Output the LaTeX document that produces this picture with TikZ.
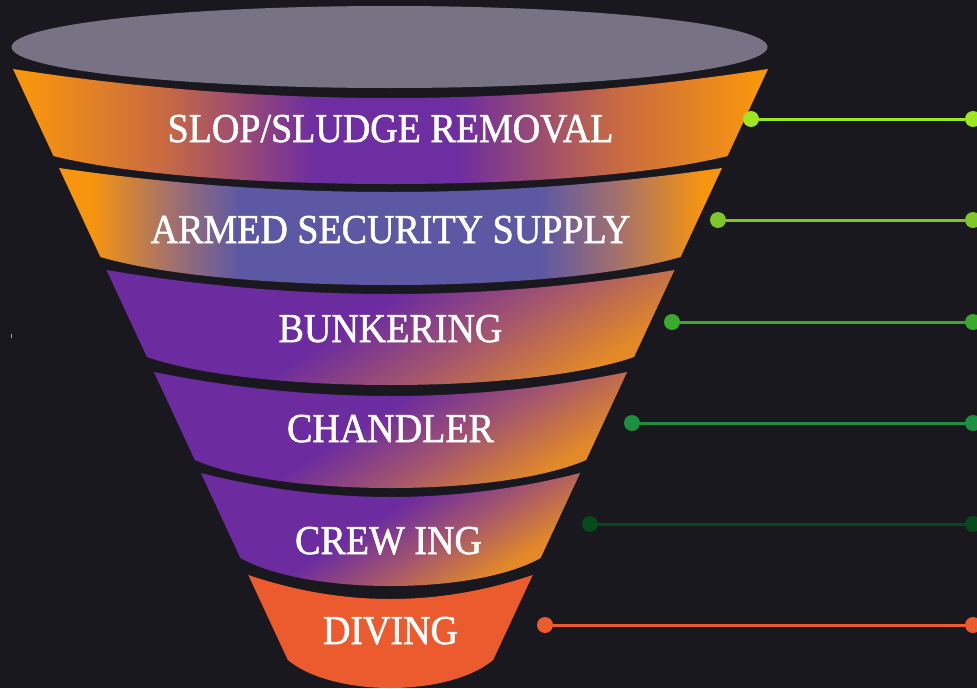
\documentclass[tikz,border=0pt]{standalone}
\usepackage{fontspec}
\usepackage{graphicx}
\newfontfamily\lblfam[FakeBold=1.4]{Liberation Serif}
\definecolor{bgc}{HTML}{19181E}
\definecolor{topc}{HTML}{777385}
\definecolor{cor}{HTML}{F7950F}
\definecolor{cmidone}{HTML}{C86A42}
\definecolor{cpu}{HTML}{6E2DA0}
\definecolor{cblue}{HTML}{5D58A4}
\definecolor{cmidtwo}{HTML}{A2706E}
\definecolor{dpu}{HTML}{6C2C9F}
\definecolor{dmid}{HTML}{A5566C}
\definecolor{dor}{HTML}{E38A27}
\definecolor{cdive}{HTML}{EC5B2D}
\definecolor{gone}{HTML}{A0E620}
\definecolor{gtwo}{HTML}{80C52A}
\definecolor{gthree}{HTML}{3BA82E}
\definecolor{gfour}{HTML}{1C9040}
\definecolor{gfive}{HTML}{064A1C}
\pgfdeclarehorizontalshading{bandone}{100bp}{color(0bp)=(cor); color(26bp)=(cor); color(35bp)=(cmidone); color(45bp)=(cpu); color(54.5bp)=(cpu); color(65bp)=(cmidone); color(74bp)=(cor); color(100bp)=(cor)}
\pgfdeclarehorizontalshading{bandtwo}{100bp}{color(0bp)=(cor); color(27.5bp)=(cor); color(33.5bp)=(cmidtwo); color(38.6bp)=(cblue); color(61.3bp)=(cblue); color(67bp)=(cmidtwo); color(73.5bp)=(cor); color(100bp)=(cor)}
\pgfdeclarehorizontalshading{diagband}{100bp}{color(0bp)=(dpu); color(48.3bp)=(dpu); color(55bp)=(dmid); color(62bp)=(dor); color(100bp)=(dor)}
\newcommand\funnelband[5]{%
  \pgfmathsetmacro\fbtL{13+0.465*(#1-69)}%
  \pgfmathsetmacro\fbtR{768-0.465*(#1-69)}%
  \pgfmathsetmacro\fbbL{13+0.465*(#2-69)}%
  \pgfmathsetmacro\fbbR{768-0.465*(#2-69)}%
  \pgfmathsetmacro\fbtcA{\fbtL+(390.5-\fbtL)*2/3}%
  \pgfmathsetmacro\fbtcB{\fbtR-(\fbtR-390.5)*2/3}%
  \pgfmathsetmacro\fbtcy{#1+4/3*#3}%
  \pgfmathsetmacro\fbbW{\fbbR-\fbbL}%
  \pgfmathsetmacro\fbbcA{\fbbR-0.22*\fbbW}%
  \pgfmathsetmacro\fbbcB{\fbbL+0.22*\fbbW}%
  \pgfmathsetmacro\fbbcy{#2+4/3*#4}%
  \begin{scope}
    \clip (\fbtL,#1) .. controls (\fbtcA,\fbtcy) and (\fbtcB,\fbtcy) .. (\fbtR,#1)
      -- (\fbbR,#2) .. controls (\fbbcA,\fbbcy) and (\fbbcB,\fbbcy) .. (\fbbL,#2) -- cycle;
    #5
  \end{scope}}
\newcommand\lbltext[1]{\scalebox{1}[1.08]{#1}}
\tikzset{
  lbl/.style={text=white, font=\lblfam\fontsize{38}{40}\selectfont, anchor=base, inner sep=0pt},
  dot/.style={circle, fill=#1, minimum size=16pt, inner sep=0pt},
  conn/.style={draw=#1, line width=3pt}
}
\begin{document}
\begin{tikzpicture}[x=1pt,y=-1pt]
\useasboundingbox (0,0) rectangle (977,688);
\fill[bgc] (0,0) rectangle (977,688);
% top ellipse
\fill[topc] (389.5,47) ellipse [x radius=378, y radius=41];
% bands
\funnelband{69}{156}{29}{28}{\shade[shading=bandone] (13,50) rectangle (768,200);}
\funnelband{168}{257}{24}{28}{\shade[shading=bandtwo] (59,150) rectangle (722,300);}
\funnelband{270}{357}{24}{28}{\shade[shading=diagband, shading angle=-58] (90.5,25) rectangle (690.5,625);}
\funnelband{372}{460}{24}{28}{\shade[shading=diagband, shading angle=-58] (140.5,178) rectangle (640.5,678);}
\funnelband{473}{558}{24}{28}{\shade[shading=diagband, shading angle=-58] (190.5,327) rectangle (590.5,727);}
\funnelband{575}{660}{24}{28}{\fill[cdive] (200,560) rectangle (600,700);}
% speck
\fill[gray!70] (10.5,334) rectangle (12,338);
% labels
\node[lbl] (t1) at (390.5,142) {\lbltext{SLOP/SLUDGE REMOVAL}};
\node[lbl] (t2) at (390.5,243) {\lbltext{ARMED SECURITY SUPPLY}};
\node[lbl] (t3) at (390.5,342) {\lbltext{BUNKERING}};
\node[lbl] (t4) at (390.5,442) {\lbltext{CHANDLER}};
\node[lbl] (t5) at (388.5,554) {\lbltext{CREW ING}};
\node[lbl] (t6) at (390.5,644) {\lbltext{DIVING}};
% connectors
\node[dot=gone] (a1) at (751,119) {};
\node[dot=gone] (b1) at (973,119) {};
\draw[conn=gone] (a1) -- (b1);
\node[dot=gtwo] (a2) at (718,220) {};
\node[dot=gtwo] (b2) at (973,220) {};
\draw[conn=gtwo] (a2) -- (b2);
\node[dot=gthree] (a3) at (672,322) {};
\node[dot=gthree] (b3) at (973,322) {};
\draw[conn=gthree] (a3) -- (b3);
\node[dot=gfour] (a4) at (632,423) {};
\node[dot=gfour] (b4) at (973,423) {};
\draw[conn=gfour] (a4) -- (b4);
\node[dot=gfive] (a5) at (590,524) {};
\node[dot=gfive] (b5) at (973,524) {};
\draw[conn=gfive] (a5) -- (b5);
\node[dot=cdive] (a6) at (545,625) {};
\node[dot=cdive] (b6) at (973,625) {};
\draw[conn=cdive] (a6) -- (b6);
\end{tikzpicture}
\end{document}
